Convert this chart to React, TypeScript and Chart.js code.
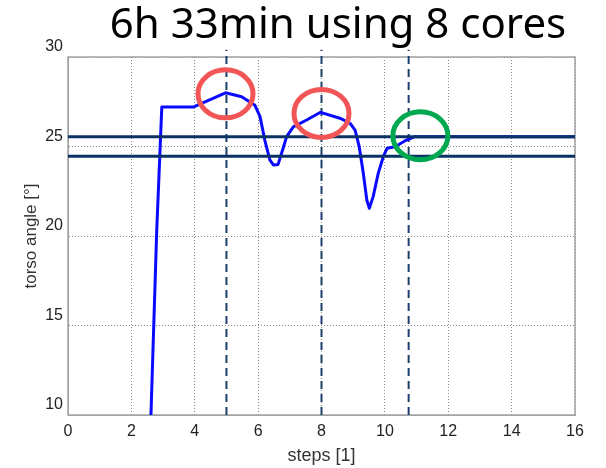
import React, { useEffect, useRef } from "react";
import { Chart, registerables } from "chart.js";

Chart.register(...registerables);

// ---- data ----
const titleText = "6h 33min using 8 cores";
const xAxisTitle = "steps [1]";
const yAxisTitle = "torso angle [°]";

const xTicks = [0, 2, 4, 6, 8, 10, 12, 14, 16];
const yTicks = [10, 15, 20, 25, 30];

const curveX = [2.6, 2.8, 2.96, 3.95, 4.97, 5.48, 5.9, 6.06, 6.21, 6.37, 6.48, 6.63, 6.74, 6.9, 7.11, 7.53, 7.97, 8.58, 8.9, 9.06, 9.19, 9.32, 9.43, 9.51, 9.63, 9.79, 9.95, 10.07, 10.32, 10.68, 10.95, 16];
const curveY = [9.0, 20.3, 27.2, 27.2, 28.0, 27.78, 27.3, 26.67, 25.36, 24.25, 23.97, 24.0, 24.62, 25.55, 26.1, 26.48, 26.91, 26.58, 26.3, 25.92, 24.99, 23.5, 22.01, 21.55, 22.2, 23.5, 24.43, 24.9, 24.99, 25.36, 25.55, 25.55];

const boundLevels = [25.55, 24.45];
const stepMarkers = [5, 8, 10.75];
const markerSpan = [10, 30.4];

const redCircleX = [4.97, 8.0];
const redCircleY = [27.94, 26.85];
const greenCircleX = [11.12];
const greenCircleY = [25.6];

// ---- styles ----
const BLUE = "#0a0aff";
const NAVY = "#0b3265";
const DASH_NAVY = "#1b3f6e";
const RED = "#f25555";
const GREEN = "#00a94f";
const GRID = "#8a8a8a";
const BOX = "#a3a3a3";
const TEXT = "#222222";

export default function App() {
  const ref = useRef<HTMLCanvasElement | null>(null);

  useEffect(() => {
    if (!ref.current) return;

    const datasets: any[] = [];
    boundLevels.forEach((v) => {
      datasets.push({
        data: [{ x: xTicks[0], y: v }, { x: xTicks[xTicks.length - 1], y: v }],
        showLine: true,
        borderColor: NAVY,
        borderWidth: 3,
        pointRadius: 0,
        order: 1,
      });
    });
    datasets.push({
      data: curveX.map((x, i) => ({ x, y: curveY[i] })),
      showLine: true,
      borderColor: BLUE,
      borderWidth: 3,
      pointRadius: 0,
      tension: 0,
      borderJoinStyle: "round",
      order: 2,
    });
    stepMarkers.forEach((x) => {
      datasets.push({
        data: [{ x, y: markerSpan[0] }, { x, y: markerSpan[1] }],
        showLine: true,
        borderColor: DASH_NAVY,
        borderWidth: 2,
        borderDash: [8, 5],
        pointRadius: 0,
        clip: false,
        order: 3,
      });
    });

    const boxPlugin = {
      id: "boxPlugin",
      beforeDatasetsDraw(chart: any) {
        const { ctx, chartArea } = chart;
        ctx.save();
        ctx.strokeStyle = BOX;
        ctx.lineWidth = 1.5;
        ctx.strokeRect(chartArea.left, chartArea.top, chartArea.right - chartArea.left, chartArea.bottom - chartArea.top);
        ctx.restore();
      },
    };

    const circlePlugin = {
      id: "circlePlugin",
      afterDatasetsDraw(chart: any) {
        const { ctx, scales } = chart;
        const drawSet = (xs: number[], ys: number[], color: string) => {
          xs.forEach((xv, i) => {
            const px = scales.x.getPixelForValue(xv);
            const py = scales.y.getPixelForValue(ys[i]);
            ctx.save();
            ctx.strokeStyle = color;
            ctx.lineWidth = 5;
            ctx.beginPath();
            ctx.ellipse(px, py, 27.5, 24, 0, 0, Math.PI * 2);
            ctx.stroke();
            ctx.restore();
          });
        };
        drawSet(redCircleX, redCircleY, RED);
        drawSet(greenCircleX, greenCircleY, GREEN);
      },
    };

    const titlePlugin = {
      id: "titlePlugin",
      afterDraw(chart: any) {
        const { ctx } = chart;
        ctx.save();
        ctx.fillStyle = "#000";
        ctx.font = "42px 'Noto Sans'";
        ctx.textAlign = "center";
        ctx.textBaseline = "alphabetic";
        ctx.fillText(titleText, 338, 38);
        ctx.restore();
      },
    };

    const chart = new Chart(ref.current, {
      type: "scatter",
      data: { datasets },
      options: {
        animation: false,
        responsive: true,
        maintainAspectRatio: false,
        layout: { padding: { top: 57, right: 31, left: 0, bottom: 0 } },
        plugins: { legend: { display: false }, tooltip: { enabled: false }, title: { display: false } },
        scales: {
          x: {
            type: "linear",
            min: 0,
            max: 16,
            afterBuildTicks: (scale: any) => {
              scale.ticks = xTicks.map((v) => ({ value: v }));
            },
            afterFit: (scale: any) => {
              scale.height = 53;
            },
            grid: { color: GRID, lineWidth: 1, drawTicks: false },
            border: { display: true, color: BOX, width: 1, dash: [1, 2] },
            ticks: {
              padding: 7,
              color: TEXT,
              font: { family: "'Liberation Sans', Arial, sans-serif", size: 16 },
              maxRotation: 0,
            },
            title: {
              display: true,
              text: xAxisTitle,
              color: "#333",
              font: { family: "'Liberation Sans', Arial, sans-serif", size: 18 },
              padding: { top: 0, bottom: 1 },
            },
          },
          y: {
            type: "linear",
            min: 10,
            max: 30,
            afterBuildTicks: (scale: any) => {
              scale.ticks = yTicks.map((v) => ({ value: v }));
            },
            afterFit: (scale: any) => {
              scale.width = 68;
            },
            grid: { color: GRID, lineWidth: 1, drawTicks: false },
            border: { display: true, color: BOX, width: 1, dash: [1, 2] },
            ticks: {
              padding: 5,
              labelOffset: -10,
              color: TEXT,
              font: { family: "'Liberation Sans', Arial, sans-serif", size: 16 },
            },
            title: {
              display: true,
              text: yAxisTitle,
              color: "#333",
              font: { family: "'Liberation Sans', Arial, sans-serif", size: 17 },
              padding: { top: 21, bottom: 0 },
            },
          },
        },
      },
      plugins: [boxPlugin, circlePlugin, titlePlugin],
    });

    return () => chart.destroy();
  }, []);

  return (
    <div style={{ position: "absolute", left: 0, top: 0, width: 606, height: 468, background: "#fff" }}>
      <canvas ref={ref} />
    </div>
  );
}
